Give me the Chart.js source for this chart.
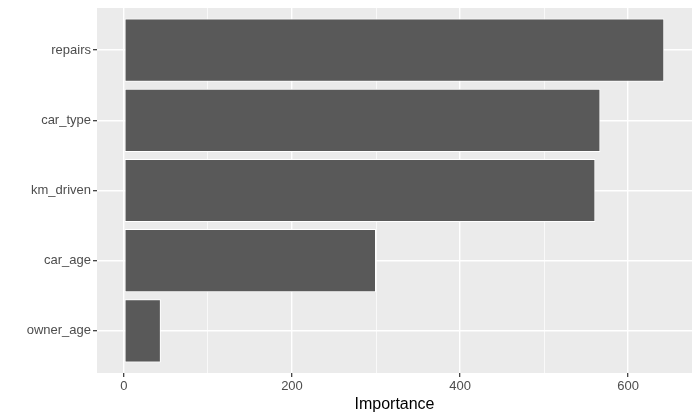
<!DOCTYPE html>
<html>
<head>
<meta charset="utf-8">
<script src="https://cdn.jsdelivr.net/npm/chart.js@4"></script>
<style>
  html, body { margin: 0; padding: 0; background: #fff; }
  #wrap { width: 700px; height: 420px; }
</style>
</head>
<body>
<div id="wrap"><canvas id="chart" width="700" height="420"></canvas></div>
<script>
// feature importance, top to bottom
const features = ["repairs", "car_type", "km_driven", "car_age", "owner_age"];
const importance = [643, 567, 561, 300, 44];
const xTicks = [0, 100, 200, 300, 400, 500, 600]; // odd hundreds are minor grid only

const panelBg = {
  id: "panelBg",
  beforeDraw(chart) {
    const { ctx, chartArea: a } = chart;
    ctx.save();
    ctx.fillStyle = "#EBEBEB";
    ctx.fillRect(a.left, a.top, a.right - a.left, a.bottom - a.top);
    ctx.restore();
  },
};

const font = "'Liberation Sans', Arial, sans-serif";

new Chart(document.getElementById("chart"), {
  type: "bar",
  data: {
    datasets: [
      {
        data: features.map((f, i) => ({ x: importance[i], y: i + 1 })),
        backgroundColor: "#595959",
        borderColor: "#ffffff",
        borderWidth: 1,
        borderSkipped: false,
        barPercentage: 0.9,
        categoryPercentage: 1,
      },
    ],
  },
  options: {
    indexAxis: "y",
    responsive: false,
    animation: false,
    layout: { padding: { top: 8, right: 8, left: 0, bottom: 0 } },
    plugins: { legend: { display: false }, tooltip: { enabled: false } },
    scales: {
      x: {
        type: "linear",
        min: -32,
        max: 676,
        afterBuildTicks: (scale) => {
          scale.ticks = xTicks.map((v) => ({ value: v }));
        },
        afterFit: (scale) => {
          scale.height = 47;
          scale.paddingLeft = 0;
          scale.paddingRight = 0;
        },
        border: { display: false },
        grid: {
          color: "#ffffff",
          lineWidth: (c) => (c.tick && c.tick.value % 200 === 0 ? 1.4 : 0.7),
          tickColor: (c) => (c.tick && c.tick.value % 200 === 0 ? "#333333" : "rgba(0,0,0,0)"),
          tickLength: 4,
          tickWidth: 1.2,
        },
        ticks: {
          padding: 2,
          color: "#4D4D4D",
          font: { family: font, size: 13 },
          maxRotation: 0,
          autoSkip: false,
          callback: (v) => (v % 200 === 0 ? String(v) : ""),
        },
        title: {
          display: true,
          text: "Importance",
          color: "#000000",
          font: { family: font, size: 16 },
          padding: { top: 0, bottom: 6 },
        },
      },
      y: {
        type: "linear",
        reverse: true,
        offset: false,
        min: 0.4,
        max: 5.6,
        afterBuildTicks: (scale) => {
          scale.ticks = features.map((f, i) => ({ value: i + 1 }));
        },
        afterFit: (scale) => {
          scale.width = 97;
          scale.paddingTop = 0;
          scale.paddingBottom = 0;
        },
        border: { display: false },
        grid: {
          offset: false,
          color: "#ffffff",
          lineWidth: 1.4,
          tickColor: "#333333",
          tickLength: 4,
          tickWidth: 1.2,
        },
        ticks: {
          padding: 2,
          color: "#4D4D4D",
          font: { family: font, size: 13 },
          autoSkip: false,
          callback: (v) => features[Math.round(v) - 1] || "",
        },
      },
    },
  },
  plugins: [panelBg],
});
</script>
</body>
</html>
